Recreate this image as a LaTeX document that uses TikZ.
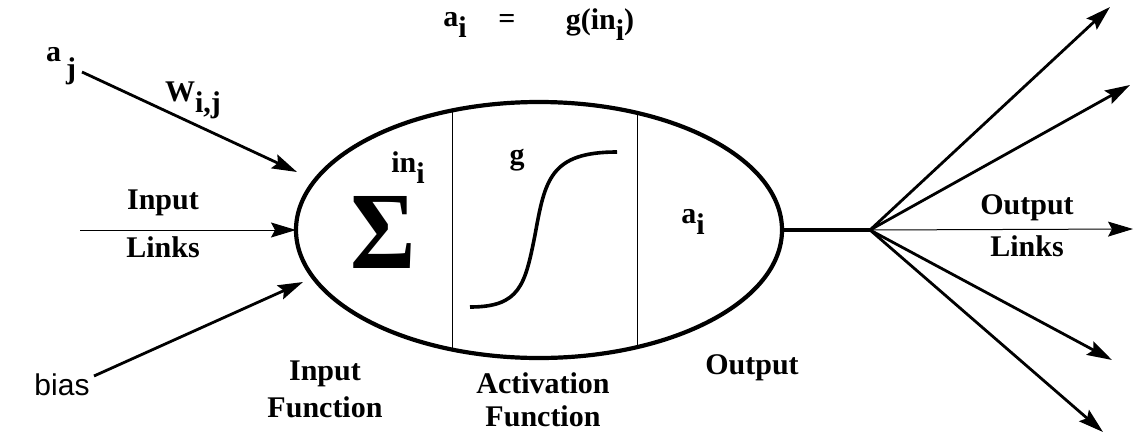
\documentclass[tikz,border=0pt]{standalone}
\usepackage{fontspec}
\setmainfont{Liberation Serif}
\newfontfamily\biasfont{Liberation Sans}
\usetikzlibrary{positioning}
\usetikzlibrary{arrows.meta, shapes.geometric}
\newcommand{\lowidx}[2]{#1\raisebox{-0.8ex}{#2}}

\begin{document}
\begin{tikzpicture}[
        x = 1pt, y = -1pt, % pixel grid of the figure
        > = {Stealth[length=25pt, width=15pt, inset=4pt]}, % arrow head style
        lbl/.style = {font=\fontsize{30}{33}\selectfont\bfseries, inner sep=0pt, align=center},
        link/.style = {->, line width=2.8pt},
        thinlink/.style = {->, line width=1pt}
        ]
  \useasboundingbox (0,0) rectangle (1137,434);

  % the neuron
  \node[ellipse, draw, line width=4.2pt, minimum width=486pt, minimum height=256pt, inner sep=0pt] (neuron) at (539,230) {};
  \begin{scope}
    \clip (539,230) ellipse (243pt and 128pt);
    \draw[line width=1pt] (452,90) -- (452,370);
    \draw[line width=1pt] (637,90) -- (637,370);
  \end{scope}
  \draw[line width=3.6pt] (470,307) .. controls (520,307) and (525,285) .. (535,235)
                         .. controls (545,180) and (550,152) .. (617,152);

  \node[font=\fontsize{100}{100}\selectfont\bfseries, inner sep=0pt, yscale=1.1] (sum) at (383,232) {Σ};
  \node[lbl] (net) at (408,168) {\lowidx{in}{i}};
  \node[lbl] (gname) at (517,160) {g};
  \node[lbl] (act) at (693,222) {\lowidx{a}{i}};

  % equation on top
  \node[lbl] (eqa) at (455,25) {\lowidx{a}{i}};
  \node[lbl] (eqs) at (507,21) {=};
  \node[lbl] (eqg) at (600,25) {g(\lowidx{in}{i})};

  % inputs
  \node[lbl] (aj) at (61,66) {a\raisebox{-1.2ex}{\,j}};
  \node[lbl] (wij) at (193,100) {\lowidx{W}{i,j}};
  \node[lbl] (inlinks) at (163,224) {Input\\[15pt]Links};
  \node[font=\biasfont\fontsize{30}{33}\selectfont, inner sep=0pt] (bias) at (62,385) {bias};

  \coordinate (srcA) at (82,72);
  \coordinate (inA) at (297,172);
  \coordinate (srcB) at (80,230);
  \coordinate (inB) at (296,230);
  \coordinate (srcC) at (94,376);
  \coordinate (inC) at (303,282);
  \draw[link] (srcA) -- (inA);
  \draw[thinlink] (srcB) -- (inB);
  \draw[link] (srcC) -- (inC);

  % outputs
  \coordinate (hub) at (870,230);
  \coordinate (out1) at (1110,7);
  \coordinate (out2) at (1130,85);
  \coordinate (out3) at (1133,229);
  \coordinate (out4) at (1112,360);
  \coordinate (out5) at (1103,432);
  \draw[line width=4.2pt] (neuron.east) -- (hub);
  \foreach \o in {1,2,4,5}
    \draw[link] (hub) -- (out\o);
  \draw[thinlink] (hub) -- (out3);

  \node[lbl] (outlinks) at (1027,226) {Output\\[9pt]Links};
  \node[lbl] (infun) at (325,389) {Input\\[4pt]Function};
  \node[lbl] (actfun) at (543,400) {Activation\\[0pt]Function};
  \node[lbl] (outlbl) at (752,368) {Output};
\end{tikzpicture}
\end{document}
